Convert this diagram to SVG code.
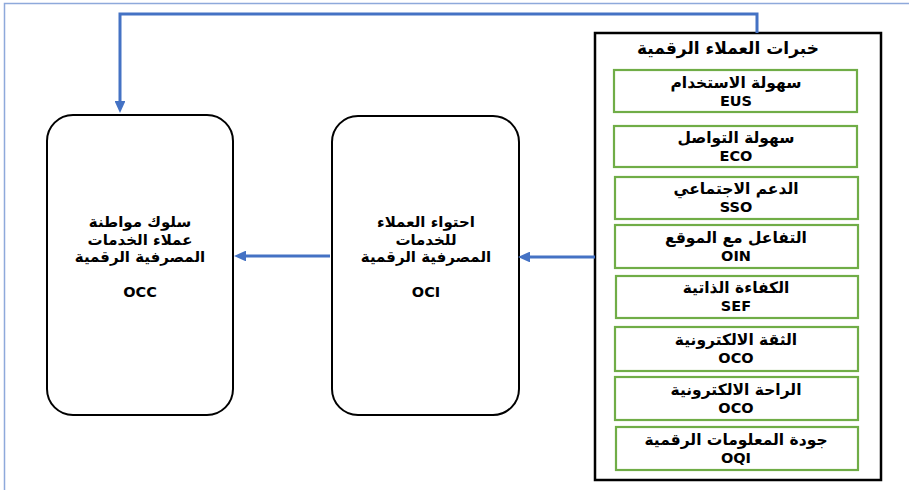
<svg xmlns="http://www.w3.org/2000/svg" width="909" height="490" viewBox="0 0 909 490">
<style>
.frame{fill:none;stroke:#8EA9DB;stroke-width:1.5}
.node{fill:#fff;stroke:#000;stroke-width:2}
.box{fill:#fff;stroke:#000;stroke-width:2.5}
.item{fill:#fff;stroke:#70AD47;stroke-width:2.2}
.ar{font-family:"DejaVu Sans",sans-serif;font-weight:bold;font-size:15.5px;fill:#000;text-anchor:middle;dominant-baseline:central}
.en{font-family:"DejaVu Sans",sans-serif;font-weight:bold;font-size:14.5px;fill:#000;text-anchor:middle;dominant-baseline:central}
.big{font-size:15px}
.title{font-size:17px}
.conn{fill:none;stroke:#4472C4;stroke-width:3}
</style>
<defs>
<marker id="ah" markerWidth="4" markerHeight="3.6" refX="2" refY="1.8" orient="auto" markerUnits="strokeWidth">
<path d="M0,0 L4,1.8 L0,3.6 z" fill="#4472C4"/>
</marker>
</defs>
<rect class="frame" x="4.5" y="3.5" width="920" height="500"/>
<g id="node-occ">
<rect class="node" x="47" y="115" width="186" height="300" rx="26" ry="26"/>
<text class="ar big" x="140" y="222">سلوك مواطنة</text>
<text class="ar big" x="140" y="240">عملاء الخدمات</text>
<text class="ar big" x="140" y="257">المصرفية الرقمية</text>
<text class="en" x="140" y="292">OCC</text>
</g>
<g id="node-oci">
<rect class="node" x="332" y="116" width="187" height="299" rx="26" ry="26"/>
<text class="ar big" x="426" y="222">احتواء العملاء</text>
<text class="ar big" x="426" y="240">للخدمات</text>
<text class="ar big" x="426" y="257">المصرفية الرقمية</text>
<text class="en" x="426" y="292">OCI</text>
</g>
<g id="node-experiences">
<rect class="box" x="595" y="33" width="286" height="447"/>
<text class="ar title" x="728" y="48">خبرات العملاء الرقمية</text>
<g id="item-eus"><rect class="item" x="614" y="70" width="243" height="42"/>
<text class="ar" x="736" y="83">سهولة الاستخدام</text><text class="en" x="736" y="101">EUS</text></g>
<g id="item-eco"><rect class="item" x="614" y="126" width="243" height="41"/>
<text class="ar" x="736" y="138">سهولة التواصل</text><text class="en" x="736" y="156">ECO</text></g>
<g id="item-sso"><rect class="item" x="615" y="177" width="243" height="42"/>
<text class="ar" x="736" y="189">الدعم الاجتماعي</text><text class="en" x="736" y="207">SSO</text></g>
<g id="item-oin"><rect class="item" x="615" y="225" width="243" height="43"/>
<text class="ar" x="736" y="238">التفاعل مع الموقع</text><text class="en" x="736" y="256">OIN</text></g>
<g id="item-sef"><rect class="item" x="616" y="276" width="242" height="42"/>
<text class="ar" x="736" y="288">الكفاءة الذاتية</text><text class="en" x="736" y="306">SEF</text></g>
<g id="item-oco1"><rect class="item" x="615" y="327" width="243" height="44"/>
<text class="ar" x="736" y="340">الثقة الالكترونية</text><text class="en" x="736" y="358">OCO</text></g>
<g id="item-oco2"><rect class="item" x="615" y="377" width="243" height="43"/>
<text class="ar" x="736" y="390">الراحة الالكترونية</text><text class="en" x="736" y="408">OCO</text></g>
<g id="item-oqi"><rect class="item" x="616" y="427" width="242" height="43"/>
<text class="ar" x="736" y="440">جودة المعلومات الرقمية</text><text class="en" x="736" y="458">OQI</text></g>
</g>
<g id="connectors">
<path class="conn" d="M757,33 V14 H120 V107" marker-end="url(#ah)"/>
<path class="conn" d="M330,256 H240" marker-end="url(#ah)"/>
<path class="conn" d="M595,257 H524" marker-end="url(#ah)"/>
</g>
</svg>
